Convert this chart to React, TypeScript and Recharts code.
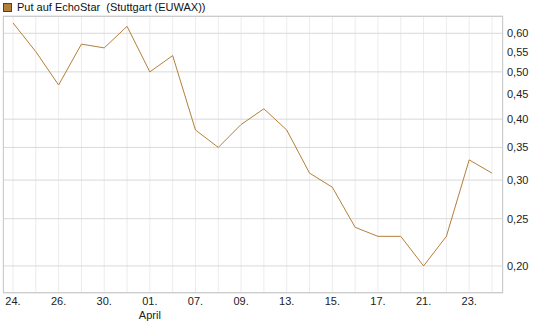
import React from 'react';
import {
  LineChart,
  Line,
  XAxis,
  YAxis,
  CartesianGrid,
} from 'recharts';

// trading days, 24 March to 24 April
const DAYS = [
  '24.', '25.', '26.', '27.', '30.', '31.', '01.', '02.', '07.', '08.', '09.',
  '10.', '13.', '14.', '15.', '16.', '17.', '20.', '21.', '22.', '23.', '24.',
];

// closing prices
const PRICES = [
  0.63, 0.55, 0.47, 0.57, 0.56, 0.62, 0.5, 0.54, 0.38, 0.35, 0.39,
  0.42, 0.38, 0.31, 0.29, 0.24, 0.23, 0.23, 0.2, 0.23, 0.33, 0.31,
];

const Y_TICKS = [0.2, 0.25, 0.3, 0.35, 0.4, 0.45, 0.5, 0.55, 0.6];

// only every second day gets a label, the month goes under the first of April
const MONTH_AT = 6;
const MONTH_LABEL = 'April';

const SERIES_NAME = 'Put auf EchoStar  (Stuttgart (EUWAX))';
const LINE_COLOR = '#b47f3b';
const FONT = '"Liberation Sans", Arial, sans-serif';

const data = DAYS.map((day, i) => ({ day: i, label: day, price: PRICES[i] }));

function DayTick(props: any) {
  const { x, y, payload } = props;
  const i = payload.value as number;
  if (i % 2 !== 0) return null;
  return (
    <g>
      <text x={x} y={y + 4} textAnchor="middle" fontSize={11} fill="#222" fontFamily={FONT}>
        {DAYS[i]}
      </text>
      {i === MONTH_AT && (
        <text x={x} y={y + 18} textAnchor="middle" fontSize={11} fill="#222" fontFamily={FONT}>
          {MONTH_LABEL}
        </text>
      )}
    </g>
  );
}

export default function App() {
  return (
    <div style={{ position: 'absolute', left: 0, top: 0, width: 545, height: 327, background: '#fff', fontFamily: FONT }}>
      <div style={{ position: 'absolute', left: 3, top: 0, height: 14, display: 'flex', alignItems: 'center', fontSize: 11, color: '#111', whiteSpace: 'pre' }}>
        <span style={{ display: 'inline-block', width: 7, height: 7, background: LINE_COLOR, border: '1px solid #5a4020', marginRight: 5 }} />
        {SERIES_NAME}
      </div>
      <LineChart width={545} height={327} data={data} margin={{ top: 16, right: 0, bottom: 0, left: 3 }}>
        <CartesianGrid horizontal={false} stroke="#ececec" />
        <CartesianGrid vertical={false} stroke="#d9d9d9" />
        <XAxis
          dataKey="day"
          type="category"
          interval={0}
          height={34}
          padding={{ left: 10, right: 11 }}
          axisLine={false}
          tickLine={false}
          tick={<DayTick />}
        />
        <YAxis
          orientation="right"
          scale="log"
          domain={[0.176, 0.651]}
          allowDataOverflow
          ticks={Y_TICKS}
          width={42}
          axisLine={false}
          tickLine={false}
          tickSize={2}
          tickMargin={2}
          tick={{ fontSize: 11, fill: '#222', fontFamily: FONT }}
          tickFormatter={(v: number) => v.toFixed(2).replace('.', ',')}
        />
        <Line
          type="linear"
          dataKey="price"
          stroke={LINE_COLOR}
          strokeWidth={1}
          dot={false}
          isAnimationActive={false}
        />
      </LineChart>
      <div style={{ position: 'absolute', left: 3, top: 16, width: 500, height: 277, border: '1px solid #cccccc', boxSizing: 'border-box', pointerEvents: 'none' }} />
    </div>
  );
}
